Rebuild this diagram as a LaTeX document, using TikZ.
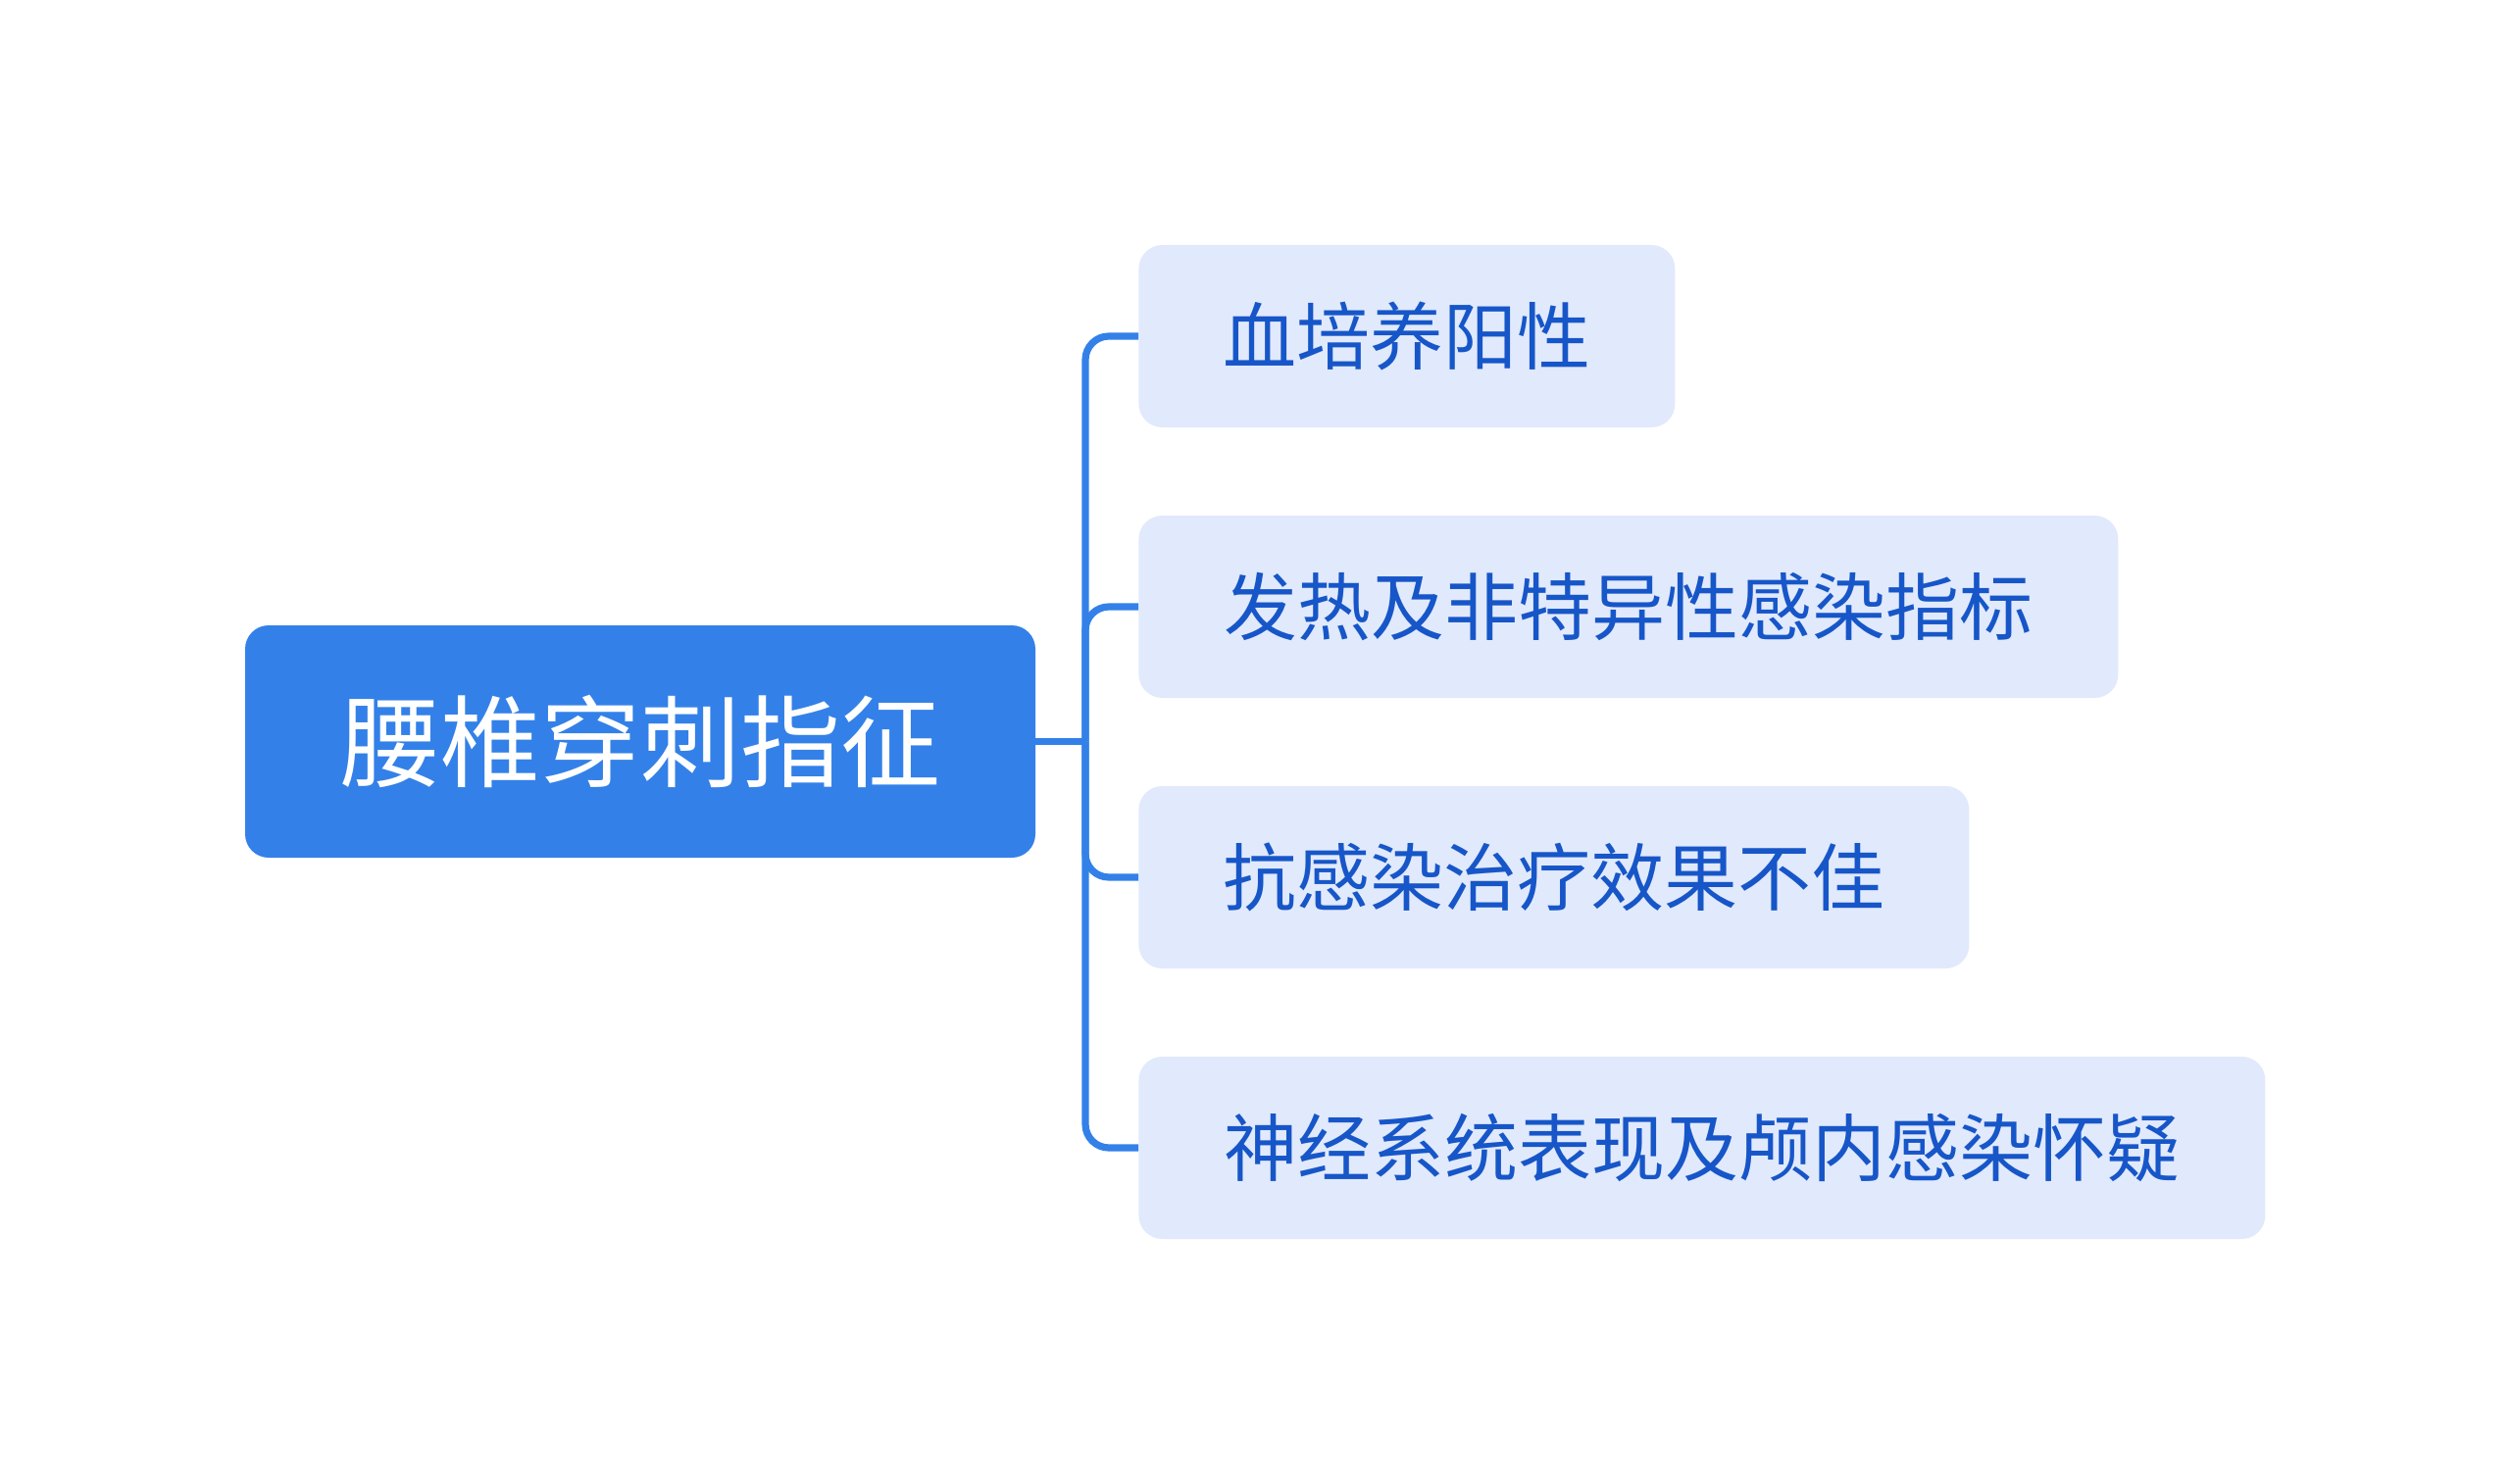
\documentclass[tikz,border=0pt]{standalone}
\usepackage{fontspec}
\setmainfont{Noto Sans CJK SC}
\usetikzlibrary{positioning}

\definecolor{rootblue}{RGB}{51,129,232}
\definecolor{leafbg}{RGB}{225,233,252}
\definecolor{leaftext}{RGB}{22,86,200}
\definecolor{linkblue}{RGB}{51,129,232}

\begin{document}
\begin{tikzpicture}[x=0.5pt,y=-0.5pt]

  \tikzstyle{topic} = [fill=rootblue, rectangle, rounded corners=12pt, text=white,
                       font=\fontsize{51pt}{60pt}\selectfont, minimum width=403pt, minimum height=118.5pt]
  \tikzstyle{leaf} = [fill=leafbg, rectangle, rounded corners=12pt, text=leaftext, anchor=west,
                      font=\fontsize{37.5pt}{45pt}\selectfont, minimum height=93pt]
  \tikzstyle{link} = [draw=linkblue, line width=3.6pt, rounded corners=12pt]

  \useasboundingbox (0,0) rectangle (2560,1514);

  \node[topic] (root) at (653,756.5) {腰椎穿刺指征};

  \node[leaf, minimum width=273.5pt] (blood) at (1161,343) {血培养阳性};
  \node[leaf, minimum width=499.5pt] (fever) at (1161,619) {发热及非特异性感染指标};
  \node[leaf, minimum width=423.5pt] (therapy) at (1161,895) {抗感染治疗效果不佳};
  \node[leaf, minimum width=574.5pt] (neuro) at (1161,1171) {神经系统表现及颅内感染怀疑};

  \coordinate (trunk) at (1107,756.5);

  \draw[link] (root.east) -- (trunk);
  \draw[link] (trunk) |- (blood.west);
  \draw[link] (trunk) |- (fever.west);
  \draw[link] (trunk) |- (therapy.west);
  \draw[link] (trunk) |- (neuro.west);

\end{tikzpicture}
\end{document}
